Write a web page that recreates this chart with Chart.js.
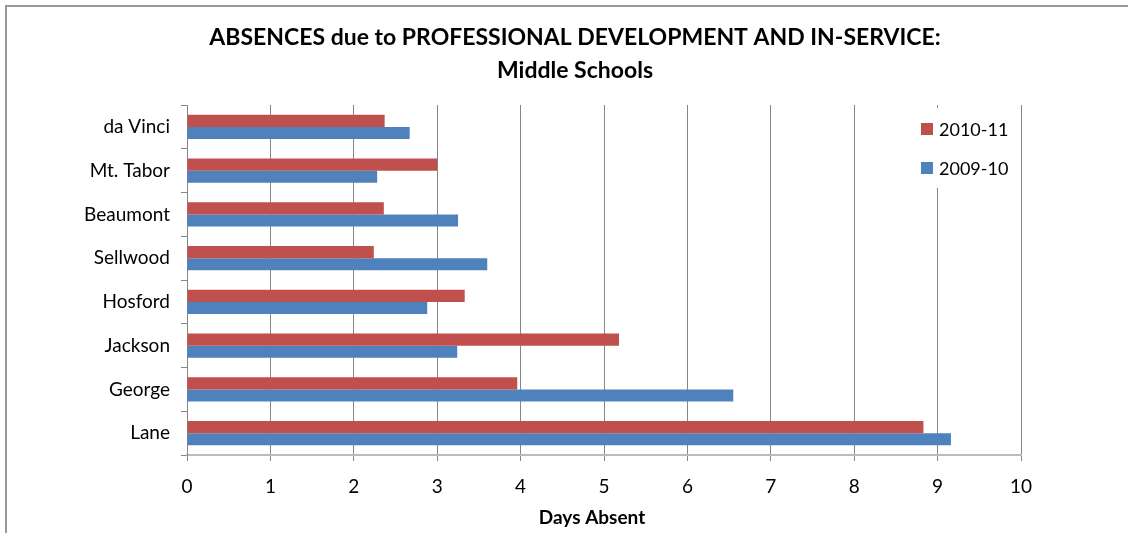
<!DOCTYPE html>
<html>
<head>
<meta charset="utf-8">
<script src="https://cdn.jsdelivr.net/npm/chart.js@4.4.0/dist/chart.umd.min.js"></script>
<style>
    body { margin: 0; background: #fff; }
    #wrap { width: 1128px; height: 533px; }
</style>
</head>
<body>
<div id="wrap"><canvas id="absence-chart" width="1128" height="533"></canvas></div>
<script>
// Data
const schools = ['da Vinci', 'Mt. Tabor', 'Beaumont', 'Sellwood', 'Hosford', 'Jackson', 'George', 'Lane'];
const days2010 = [2.37, 3.00, 2.36, 2.24, 3.33, 5.18, 3.96, 8.83];
const days2009 = [2.67, 2.28, 3.25, 3.60, 2.88, 3.24, 6.55, 9.16];
const seriesLabels = ['2010-11', '2009-10'];
const titleLines = ['ABSENCES due to PROFESSIONAL DEVELOPMENT AND IN-SERVICE:', 'Middle Schools'];
const xAxisTitle = 'Days Absent';
const xTicks = [0, 1, 2, 3, 4, 5, 6, 7, 8, 9, 10];

const FONT = 'Lato, "Noto Sans", sans-serif';
const RED = '#C0504D';
const BLUE = '#4F81BD';

// border, judul, judul sumbu dan legenda digambar manual
const decorPlugin = {
    id: 'decor',
    beforeDraw(chart) {
        const ctx = chart.ctx;
        ctx.save();
        ctx.strokeStyle = '#999999';
        ctx.lineWidth = 2;
        ctx.beginPath();
        ctx.moveTo(6, 533);
        ctx.lineTo(6, 6);
        ctx.lineTo(1128, 6);
        ctx.stroke();

        ctx.fillStyle = '#000';
        ctx.font = 'bold 23px ' + FONT;
        ctx.textAlign = 'center';
        ctx.textBaseline = 'middle';
        ctx.fillText(titleLines[0], 575, 38);
        ctx.fillText(titleLines[1], 575, 71);

        ctx.font = 'bold 19px ' + FONT;
        ctx.fillText(xAxisTitle, 592, 518);
        ctx.restore();
    },
    afterDraw(chart) {
        const ctx = chart.ctx;
        ctx.save();
        ctx.fillStyle = '#fff';
        ctx.fillRect(912, 108, 104, 80);
        const colors = [RED, BLUE];
        ctx.font = '18px ' + FONT;
        ctx.textBaseline = 'middle';
        seriesLabels.forEach((label, i) => {
            const y = 129 + i * 39;
            ctx.fillStyle = colors[i];
            ctx.fillRect(921, y - 6, 12, 12);
            ctx.fillStyle = '#000';
            ctx.fillText(label, 939, y + 1);
        });
        ctx.restore();
    }
};

document.addEventListener('DOMContentLoaded', () => {
    initChart();
});

function initChart() {
    const ctx = document.getElementById('absence-chart').getContext('2d');
    new Chart(ctx, {
        type: 'bar',
        data: {
            labels: schools,
            datasets: [
                { label: seriesLabels[0], data: days2010, backgroundColor: RED },
                { label: seriesLabels[1], data: days2009, backgroundColor: BLUE }
            ]
        },
        options: {
            indexAxis: 'y',
            responsive: false,
            animation: false,
            categoryPercentage: 0.55,
            barPercentage: 1.0,
            layout: { padding: { top: 105, right: 107, bottom: 0, left: 0 } },
            plugins: {
                legend: { display: false },
                title: { display: false },
                tooltip: { enabled: false }
            },
            scales: {
                x: {
                    min: 0,
                    max: 10,
                    afterFit: scale => { scale.height = 78; },
                    afterBuildTicks: scale => { scale.ticks = xTicks.map(v => ({ value: v })); },
                    grid: { color: '#868686', tickLength: 6 },
                    border: { color: '#BBBBBB', width: 2 },
                    ticks: { color: '#000', padding: 14, font: { family: FONT, size: 19 } }
                },
                y: {
                    afterFit: scale => { scale.width = 187; },
                    grid: { drawOnChartArea: false, color: '#868686', tickLength: 6 },
                    border: { color: '#868686', width: 1 },
                    ticks: { color: '#000', padding: 11, font: { family: FONT, size: 19 } }
                }
            }
        },
        plugins: [decorPlugin]
    });
}
</script>
</body>
</html>
